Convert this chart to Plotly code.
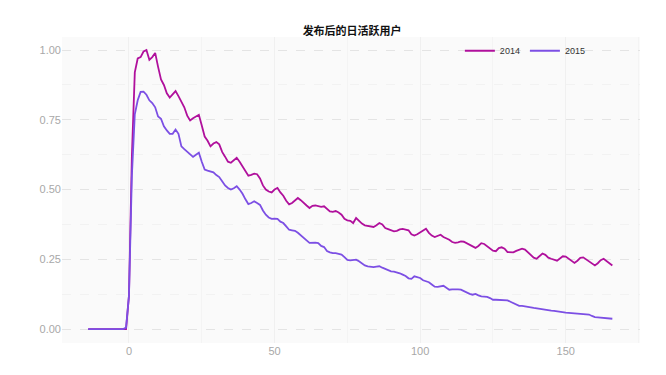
import plotly.graph_objects as go

# x values: days relative to release
days = list(range(-14, 167))

# 2014 series (daily, day -14 .. 166)
dau_2014 = (
    [0.0] * 14 +
    [0.12, 0.62, 0.92, 0.97, 0.975, 0.995, 1.0, 0.965, 0.975, 0.99,      # 0-9
     0.94, 0.895, 0.875, 0.845, 0.83, 0.84, 0.853, 0.835, 0.815, 0.795,  # 10-19
     0.765, 0.748, 0.756, 0.762, 0.768, 0.73, 0.69, 0.675, 0.655, 0.665, # 20-29
     0.67, 0.662, 0.635, 0.618, 0.60, 0.596, 0.605, 0.614, 0.60, 0.584,  # 30-39
     0.568, 0.55, 0.553, 0.557, 0.555, 0.54, 0.515, 0.50, 0.493, 0.49,   # 40-49
     0.50, 0.506, 0.49, 0.478, 0.46, 0.447, 0.452, 0.462, 0.47, 0.462,   # 50-59
     0.454, 0.443, 0.434, 0.442, 0.443, 0.44, 0.438, 0.44, 0.43, 0.422,  # 60-69
     0.42, 0.423, 0.418, 0.41, 0.395, 0.39, 0.388, 0.38, 0.398, 0.388,   # 70-79
     0.378, 0.372, 0.37, 0.368, 0.366, 0.372, 0.38, 0.375, 0.362, 0.358, # 80-89
     0.354, 0.35, 0.352, 0.357, 0.359, 0.356, 0.354, 0.34, 0.335, 0.34,  # 90-99
     0.347, 0.352, 0.36, 0.345, 0.335, 0.33, 0.335, 0.338, 0.33, 0.326,  # 100-109
     0.32, 0.312, 0.309, 0.311, 0.314, 0.313, 0.307, 0.302, 0.295, 0.291,# 110-119
     0.298, 0.308, 0.305, 0.296, 0.288, 0.281, 0.279, 0.29, 0.293, 0.288,# 120-129
     0.276, 0.275, 0.275, 0.28, 0.284, 0.288, 0.285, 0.276, 0.268, 0.256,# 130-139
     0.252, 0.262, 0.271, 0.266, 0.256, 0.252, 0.248, 0.245, 0.253, 0.261,# 140-149
     0.26, 0.252, 0.243, 0.237, 0.245, 0.255, 0.257, 0.25, 0.244, 0.236, # 150-159
     0.228, 0.236, 0.247, 0.252, 0.243, 0.235, 0.228]                    # 160-166
)

# 2015 series (daily, day -14 .. 166)
dau_2015 = (
    [0.0] * 13 + [0.005] +
    [0.12, 0.55, 0.77, 0.82, 0.85, 0.851, 0.84, 0.82, 0.81, 0.795,       # 0-9
     0.762, 0.754, 0.727, 0.712, 0.70, 0.70, 0.715, 0.70, 0.655, 0.645,  # 10-19
     0.635, 0.625, 0.617, 0.625, 0.632, 0.60, 0.572, 0.568, 0.566, 0.562,# 20-29
     0.552, 0.545, 0.53, 0.515, 0.506, 0.50, 0.505, 0.512, 0.50, 0.485,  # 30-39
     0.465, 0.448, 0.452, 0.458, 0.452, 0.445, 0.425, 0.41, 0.40, 0.395, # 40-49
     0.396, 0.395, 0.385, 0.38, 0.368, 0.356, 0.354, 0.352, 0.345, 0.335,# 50-59
     0.328, 0.318, 0.309, 0.31, 0.31, 0.308, 0.298, 0.294, 0.28, 0.275,  # 60-69
     0.272, 0.272, 0.27, 0.267, 0.258, 0.248, 0.246, 0.247, 0.249, 0.243,# 70-79
     0.236, 0.228, 0.225, 0.223, 0.222, 0.224, 0.225, 0.22, 0.215, 0.21, # 80-89
     0.207, 0.206, 0.204, 0.20, 0.195, 0.19, 0.182, 0.18, 0.189, 0.186,  # 90-99
     0.183, 0.175, 0.17, 0.168, 0.16, 0.152, 0.151, 0.152, 0.155, 0.148, # 100-109
     0.141, 0.142, 0.143, 0.142, 0.141, 0.136, 0.129, 0.126, 0.123, 0.126,# 110-119
     0.121, 0.117, 0.116, 0.115, 0.111, 0.105, 0.105, 0.105, 0.105, 0.104,# 120-129
     0.103, 0.098, 0.092, 0.088, 0.083, 0.083, 0.082, 0.08, 0.078, 0.076,# 130-139
     0.074, 0.073, 0.071, 0.07, 0.068, 0.066, 0.065, 0.063, 0.061, 0.06, # 140-149
     0.059, 0.058, 0.057, 0.056, 0.055, 0.054, 0.053, 0.052, 0.052, 0.047,# 150-159
     0.043, 0.042, 0.041, 0.04, 0.039, 0.038, 0.037]                     # 160-166
)

series_names = ["2014", "2015"]
series_colors = ["#b0109c", "#7c4fe4"]

x_ticks = [0, 50, 100, 150]
y_ticks = [0.0, 0.25, 0.5, 0.75, 1.0]
y_tick_labels = ["0.00", "0.25", "0.50", "0.75", "1.00"]

fig = go.Figure()
for name, vals, col in zip(series_names, [dau_2014, dau_2015], series_colors):
    fig.add_trace(go.Scatter(x=days, y=vals, mode="lines", name=name,
                             line=dict(color=col, width=1.8)))

cjk = "Noto Sans CJK SC, Noto Sans, sans-serif"
latin = "Liberation Sans, Arial, sans-serif"

# page body has an 8px margin, so the figure is 8px smaller and offset by 8px
fig.update_layout(
    width=658, height=367,
    margin=dict(l=54, r=26, t=29, b=32, autoexpand=False),
    paper_bgcolor="white",
    plot_bgcolor="#fafafa",
    font=dict(family=latin, color="#a8a8a8", size=11),
    title=dict(text="<b>发布后的日活跃用户</b>", x=0.523, xanchor="center",
               xref="container", yref="container",
               y=0.937, yanchor="middle",
               font=dict(size=11, color="#111111", family=cjk)),
    showlegend=True,
    legend=dict(orientation="h", x=0.915, xanchor="right", y=0.955, yanchor="middle",
                bgcolor="rgba(0,0,0,0)", font=dict(size=9, color="#333333", family=latin),
                itemwidth=30, tracegroupgap=0, traceorder="normal"),
    xaxis=dict(range=[-23, 175.5], tickvals=x_ticks, ticks="", showline=False,
               zeroline=False, showgrid=True, gridcolor="#f0f0f0", gridwidth=1,
               minor=dict(dtick=25, tick0=-25, showgrid=True, gridcolor="#f4f4f4"),
               tickfont=dict(size=11, color="#a8a8a8", family=latin)),
    yaxis=dict(range=[-0.05, 1.047], tickvals=y_ticks, ticktext=y_tick_labels,
               ticks="", showline=False, zeroline=False, showgrid=True,
               gridcolor="#e4e4e4", griddash="dash", gridwidth=1,
               minor=dict(dtick=0.125, tick0=0.125, showgrid=True, gridcolor="#f2f2f2"),
               ticklabelstandoff=0,
               tickfont=dict(size=11, color="#a8a8a8", family=latin)),
)

fig.write_html("out.html")
